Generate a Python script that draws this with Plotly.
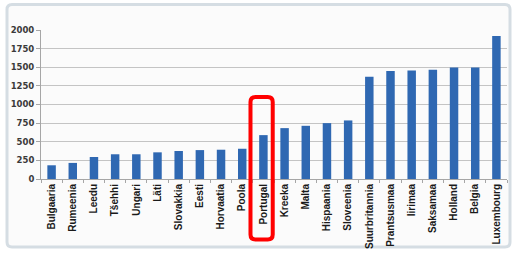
import plotly.graph_objects as go

countries = ["Bulgaaria", "Rumeenia", "Leedu", "Tšehhi", "Ungari", "Läti", "Slovakkia",
             "Eesti", "Horvaatia", "Poola", "Portugal", "Kreeka", "Malta", "Hispaania",
             "Sloveenia", "Suurbritannia", "Prantsusmaa", "Iirimaa", "Saksamaa",
             "Holland", "Belgia", "Luxembourg"]
values = [184, 216, 295, 332, 332, 358, 376, 388, 393, 406, 589, 683, 714, 750,
          786, 1372, 1450, 1455, 1468, 1496, 1496, 1918]
y_ticks = [0, 250, 500, 750, 1000, 1250, 1500, 1750, 2000]
highlight = "Portugal"

W, H = 515, 261
L, R, T, B = 41, 8, 30, 82
pw, ph = W - L - R, H - T - B

def px(x):
    return (x - L) / pw

def py(y):
    return (H - B - y) / ph

fig = go.Figure(go.Bar(x=countries, y=values, marker_color="#2f68b2",
                       marker_line_width=0, width=0.4))

# outer rounded frame
x0, x1, y0, y1, r = px(7), px(510), py(4.5), py(247), 5
rx, ry = r / pw, r / ph
frame = (f"M{x0+rx},{y0} L{x1-rx},{y0} Q{x1},{y0} {x1},{y0-ry} "
         f"L{x1},{y1+ry} Q{x1},{y1} {x1-rx},{y1} L{x0+rx},{y1} Q{x0},{y1} {x0},{y1+ry} "
         f"L{x0},{y0-ry} Q{x0},{y0} {x0+rx},{y0} Z")
fig.add_shape(type="path", path=frame, xref="paper", yref="paper", layer="below",
              fillcolor="#fbfbfb", line=dict(color="#d5dde3", width=3))

# red highlight box around the highlighted category
i = countries.index(highlight)
hx0, hx1 = i - 0.61, i + 0.44
hy0, hy1 = py(97), py(239.5)
hrx, hry = 5 / (pw / len(countries)), 5 / ph
hl = (f"M{hx0+hrx},{hy0} L{hx1-hrx},{hy0} Q{hx1},{hy0} {hx1},{hy0-hry} "
      f"L{hx1},{hy1+hry} Q{hx1},{hy1} {hx1-hrx},{hy1} L{hx0+hrx},{hy1} Q{hx0},{hy1} {hx0},{hy1+hry} "
      f"L{hx0},{hy0-hry} Q{hx0},{hy0} {hx0+hrx},{hy0} Z")
fig.add_shape(type="path", path=hl, xref="x", yref="paper", layer="above",
              line=dict(color="#ff0000", width=4))

fig.update_layout(
    width=W, height=H,
    margin=dict(l=L, r=R, t=T, b=B, pad=0),
    paper_bgcolor="white", plot_bgcolor="rgba(0,0,0,0)",
    showlegend=False,
    bargap=0.6,
)
fig.update_xaxes(
    type="category", range=[-0.5, len(countries) - 0.5],
    tickangle=-90, tickfont=dict(family="Liberation Sans", size=10, color="#1a1a1a", weight="bold"),
    showline=True, linecolor="#a6a6a6", linewidth=1,
    ticks="outside", tickson="boundaries", ticklen=3, tickcolor="#a6a6a6",
    showgrid=False, fixedrange=True,
)
fig.update_yaxes(
    range=[0, 2000], tickvals=y_ticks, ticktext=[str(v) for v in y_ticks],
    tickfont=dict(family="DejaVu Sans", size=8.5, color="#3a3a3a", weight="bold"),
    showline=True, linecolor="#a6a6a6", linewidth=1,
    ticks="outside", ticklen=4, tickcolor="#a6a6a6",
    showgrid=True, gridcolor="#c4c4c4", gridwidth=1.3, zeroline=False,
)

fig.write_html("out.html")
